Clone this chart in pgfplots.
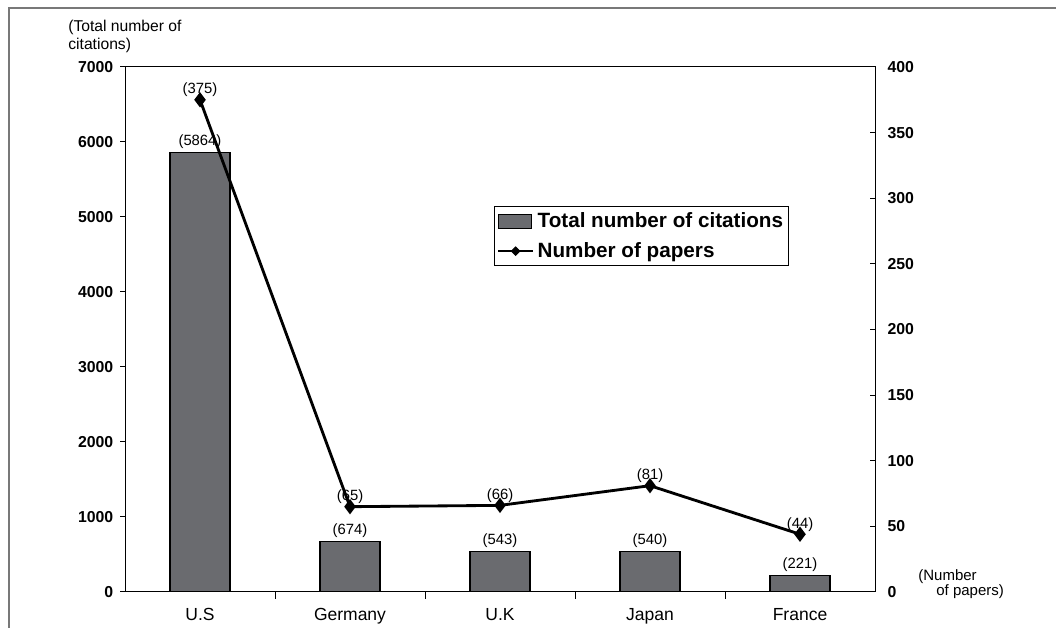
\documentclass[border=0pt]{standalone}
\usepackage{fontspec}
\setmainfont{Liberation Sans}
\usepackage{pgfplots}
\pgfplotsset{compat=1.18}
\definecolor{barfill}{RGB}{106,107,111}
\definecolor{framegray}{RGB}{120,120,120}
\pgfplotsset{
  barlegend/.style={legend image code/.code={\draw[fill=barfill,draw=black,line width=0.6pt] (0pt,-4.2pt) rectangle (20pt,4.2pt);}},
  linelegend/.style={legend image code/.code={\draw[black,line width=1.4pt] (0pt,0pt) -- (21pt,0pt); \fill[black] (10.5pt,0pt) ++(0,2.5pt) -- ++(2.5pt,-2.5pt) -- ++(-2.5pt,-2.5pt) -- ++(-2.5pt,2.5pt) -- cycle;}},
}
\begin{document}
\begin{tikzpicture}
\useasboundingbox (0,0) rectangle (633.6pt,376.8pt);
\draw[framegray, line width=1.2pt] (5.1pt,-5pt) -- (5.1pt,371.7pt) -- (640pt,371.7pt);
\begin{axis}[
  at={(75pt,21.6pt)}, anchor=south west, scale only axis,
  width=450pt, height=315pt,
  xmin=-0.5, xmax=4.5, ymin=0, ymax=7000,
  ytick={0,1000,...,7000},
  xtick={0,1,2,3,4}, xticklabels={U.S,Germany,U.K,Japan,France},
  minor xtick={0.5,1.5,2.5,3.5},
  xtick pos=bottom, ytick pos=left,
  tick align=inside,
  major x tick style={draw=none},
  minor tick length=4pt, major tick length=3pt,
  y tick style={xshift=-3pt, black, line width=0.6pt},
  minor x tick style={black, line width=0.6pt},
  axis line style={black, line width=0.6pt},
  /pgf/number format/1000 sep={},
  /pgf/number format/assume math mode=true,
  yticklabel style={font=\bfseries\fontsize{9.5}{11}\selectfont, xshift=-3.5pt},
  xticklabel style={font=\fontsize{10.5}{12}\selectfont, yshift=-3.5pt},
  ybar, bar width=36pt,
  nodes near coords={(\pgfmathprintnumber{\pgfplotspointmeta})},
  every node near coord/.append style={font=\fontsize{8.9}{10}\selectfont, inner sep=2pt},
]
\addplot[fill=barfill, draw=black, line width=0.8pt] coordinates {(0,5864) (1,674) (2,543) (3,540) (4,221)};
\end{axis}
\begin{axis}[
  at={(75pt,21.6pt)}, anchor=south west, scale only axis,
  width=450pt, height=315pt,
  xmin=-0.5, xmax=4.5, ymin=0, ymax=400,
  ytick={0,50,...,400},
  hide x axis,
  axis y line*=right,
  y axis line style={-, black, line width=0.6pt},
  tick align=inside, major tick length=3pt,
  y tick style={black, line width=0.6pt},
  /pgf/number format/1000 sep={},
  /pgf/number format/assume math mode=true,
  yticklabel style={font=\bfseries\fontsize{9.5}{11}\selectfont, xshift=4pt},
  legend style={at={(0.492,0.735)}, anchor=north west, draw=black, line width=0.6pt,
    font=\bfseries\fontsize{12.4}{14}\selectfont, inner sep=1.5pt, row sep=3.5pt,
    cells={anchor=west}},
  legend cell align=left,
]
\addlegendimage{barlegend}
\addlegendentry{Total number of citations}
\addplot[black, line width=1.7pt, mark=diamond*, mark size=3.2pt, mark options={solid},
  nodes near coords={(\pgfmathprintnumber{\pgfplotspointmeta})},
  every node near coord/.append style={font=\fontsize{8.9}{10}\selectfont, anchor=center, yshift=6pt},
  forget plot] coordinates {(0,375) (1,65) (2,66) (3,81) (4,44)};
\addlegendimage{linelegend}
\addlegendentry{Number of papers}
\end{axis}
\node[anchor=west, align=left, font=\fontsize{9.4}{10.8}\selectfont, inner sep=0pt] at (40.8pt,355.2pt) {(Total number of\\citations)};
\node[anchor=west, align=left, font=\fontsize{9}{9}\selectfont, inner sep=0pt] at (550.8pt,26.1pt) {(Number\\\hspace{1.2em}of papers)};
\end{tikzpicture}
\end{document}
